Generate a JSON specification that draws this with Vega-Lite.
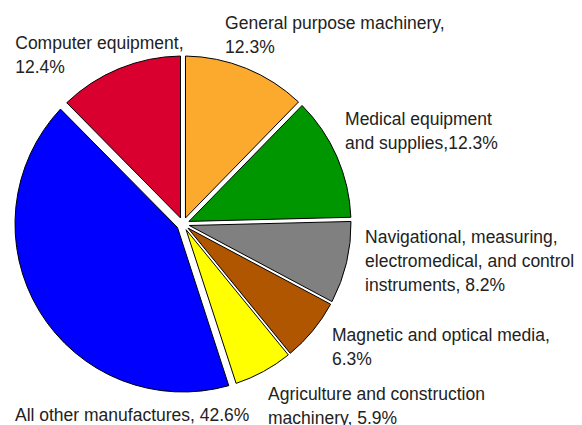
{
  "$schema": "https://vega.github.io/schema/vega-lite/v6.json",
  "width": 336,
  "height": 336,
  "autosize": "none",
  "padding": {"left": 15, "top": 56, "right": 231, "bottom": 33},
  "background": "white",
  "config": {"view": {"stroke": null}, "text": {"font": "Liberation Sans, Arial, sans-serif", "fontSize": 17.5, "lineHeight": 24, "lineBreak": "\n", "color": "#222222", "align": "left", "baseline": "alphabetic"}},
  "data": {
    "values": [
      {"idx": 1, "cat": "General purpose machinery", "value": 12.3, "label": "General purpose machinery,\n12.3%"},
      {"idx": 2, "cat": "Medical equipment and supplies", "value": 12.3, "label": "Medical equipment\nand supplies,12.3%"},
      {"idx": 3, "cat": "Navigational, measuring, electromedical, and control instruments", "value": 8.2, "label": "Navigational, measuring,\nelectromedical, and control\ninstruments, 8.2%"},
      {"idx": 4, "cat": "Magnetic and optical media", "value": 6.3, "label": "Magnetic and optical media,\n6.3%"},
      {"idx": 5, "cat": "Agriculture and construction machinery", "value": 5.9, "label": "Agriculture and construction\nmachinery, 5.9%"},
      {"idx": 6, "cat": "All other manufactures", "value": 42.6, "label": "All other manufactures, 42.6%"},
      {"idx": 7, "cat": "Computer equipment", "value": 12.4, "label": "Computer equipment,\n12.4%"}
    ]
  },
  "encoding": {
    "theta": {"field": "value", "type": "quantitative", "stack": true},
    "order": {"field": "idx", "type": "quantitative"}
  },
  "layer": [
    {
      "mark": {"type": "arc", "innerRadius": 6.5, "padAngle": 0.0764, "stroke": "black", "strokeWidth": 1},
      "encoding": {
        "color": {"field": "cat", "type": "nominal", "legend": null,
          "scale": {"domain": ["General purpose machinery", "Medical equipment and supplies", "Navigational, measuring, electromedical, and control instruments", "Magnetic and optical media", "Agriculture and construction machinery", "All other manufactures", "Computer equipment"],
                    "range": ["#FBAA2E", "#009600", "#808080", "#B05600", "#FFFF00", "#0000FF", "#D90030"]}},
        "opacity": {"condition": {"test": "datum.idx === 6", "value": 1}, "value": 0}
      }
    },
    {
      "mark": {"type": "arc", "innerRadius": 6.5, "padAngle": 0.0297, "stroke": "black", "strokeWidth": 1},
      "encoding": {
        "color": {"field": "cat", "type": "nominal", "legend": null},
        "opacity": {"condition": {"test": "datum.idx === 1 || datum.idx === 2 || datum.idx === 7", "value": 1}, "value": 0}
      }
    },
    {
      "mark": {"type": "arc", "innerRadius": 6.5, "padAngle": 0.0200, "stroke": "black", "strokeWidth": 1},
      "encoding": {
        "color": {"field": "cat", "type": "nominal", "legend": null},
        "opacity": {"condition": {"test": "datum.idx === 3", "value": 1}, "value": 0}
      }
    },
    {
      "mark": {"type": "arc", "innerRadius": 6.5, "padAngle": 0.0150, "stroke": "black", "strokeWidth": 1},
      "encoding": {
        "color": {"field": "cat", "type": "nominal", "legend": null},
        "opacity": {"condition": {"test": "datum.idx === 4 || datum.idx === 5", "value": 1}, "value": 0}
      }
    },
    {
      "mark": {"type": "text", "radius": 185, "dx": -97.5, "dy": -3.5},
      "encoding": {"text": {"condition": {"test": "datum.idx === 7", "field": "label"}, "value": ""}}
    },
    {
      "mark": {"type": "text", "radius": 185, "dx": -27.6, "dy": -23.5},
      "encoding": {"text": {"condition": {"test": "datum.idx === 1", "field": "label"}, "value": ""}}
    },
    {
      "mark": {"type": "text", "radius": 185, "dx": -7.5, "dy": -25},
      "encoding": {"text": {"condition": {"test": "datum.idx === 2", "field": "label"}, "value": ""}}
    },
    {
      "mark": {"type": "text", "radius": 185, "dx": 2, "dy": -23.6},
      "encoding": {"text": {"condition": {"test": "datum.idx === 3", "field": "label"}, "value": ""}}
    },
    {
      "mark": {"type": "text", "radius": 185, "dx": 6, "dy": 0},
      "encoding": {"text": {"condition": {"test": "datum.idx === 4", "field": "label"}, "value": ""}}
    },
    {
      "mark": {"type": "text", "radius": 185, "dx": -3.6, "dy": 13.6},
      "encoding": {"text": {"condition": {"test": "datum.idx === 5", "field": "label"}, "value": ""}}
    },
    {
      "mark": {"type": "text", "radius": 185, "dx": -10, "dy": 101},
      "encoding": {"text": {"condition": {"test": "datum.idx === 6", "field": "label"}, "value": ""}}
    }
  ]
}
